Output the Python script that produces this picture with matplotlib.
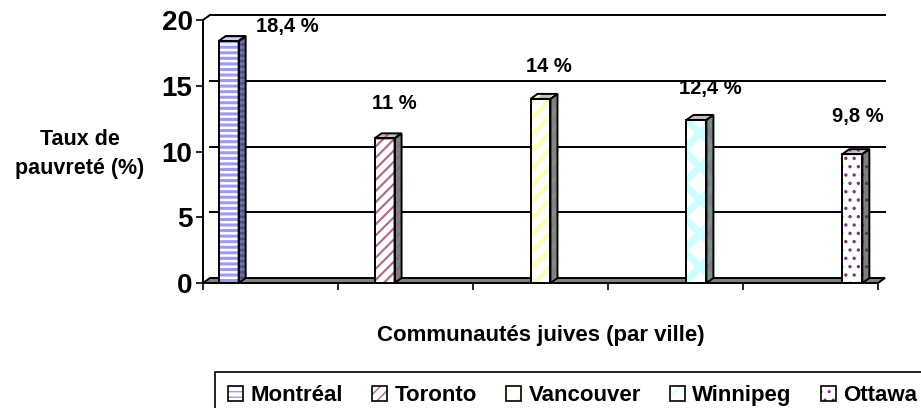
import numpy as np
import matplotlib.pyplot as plt
import matplotlib.patches as mpatches

plt.rcParams['font.family'] = ['Liberation Sans', 'DejaVu Sans']
plt.rcParams['font.weight'] = 'bold'

# data
villes = ['Montréal', 'Toronto', 'Vancouver', 'Winnipeg', 'Ottawa']
taux = [18.4, 11, 14, 12.4, 9.8]
y_ticks = [0, 5, 10, 15, 20]

# bar styles (excel-like fill patterns)
hatches = ['---', '///', '//', 'x', '..']
hatch_colors = ['#9999ff', '#b3668c', '#ffffb0', '#ccffff', '#8a2a8a']
hatch_lw = [2.2, 1.5, 3.0, 5.0, 1.2]
side_faces = ['#50507a', '#808080', '#808080', '#808080', '#808080']
side_hatch = ['#7070a8', '#8a6a7a', '#8a8a7a', '#7a9090', '#6a306a']
top_faces = ['#c8c8f0', '#c0c0c0', '#c0c0c0', '#c0c0c0', '#c0c0c0']
# label offsets from bar top (pixels)
lbl_dx = [59, 10, 8, 14, 5]
lbl_dy = [15, 35, 32, 31, 38]

W, H = 921, 408
fig = plt.figure(figsize=(W / 100, H / 100), dpi=100)
ax = fig.add_axes([203 / W, 125 / H, 675 / W, 263 / H])
ax.set_xlim(0, 5)
ax.set_ylim(0, 20)

# depth of the fake 3d box, in data units
dx = 7 / 135
dy = 5 / 263 * 20


def face(xy, fc, hc, h, hlw, z):
    with plt.rc_context({'hatch.linewidth': hlw}):
        p = mpatches.Polygon(xy, closed=True, facecolor=fc, edgecolor=hc,
                             linewidth=0, hatch=h, zorder=z, clip_on=False)
    if hasattr(p, 'set_hatch_linewidth'):
        p.set_hatch_linewidth(hlw)
    ax.add_patch(p)
    ax.add_patch(mpatches.Polygon(xy, closed=True, fill=False, edgecolor='black',
                                  linewidth=1.4, zorder=z + 0.1, clip_on=False))


# back wall gridlines
x0, x1 = ax.get_xlim()
for v in y_ticks[1:]:
    ax.plot([x0 + dx, x1 + dx], [v + dy, v + dy], color='black', lw=1.4,
            clip_on=False, zorder=1)
ax.plot([x0, x0 + dx], [y_ticks[-1], y_ticks[-1] + dy], color='black', lw=1.4,
        clip_on=False, zorder=1)

# floor
floor = [(x0, 0), (x1, 0), (x1 + dx, dy), (x0 + dx, dy)]
ax.add_patch(mpatches.Polygon(floor, closed=True, facecolor='#808080', edgecolor='black',
                              linewidth=1.4, zorder=2, clip_on=False))

# bars
centers = 2.5 + (np.arange(len(villes)) - 2) * 1.155
bw = 0.148
for i, (c, v) in enumerate(zip(centers, taux)):
    l, r = c - bw / 2, c + bw / 2
    face([(l, 0), (r, 0), (r, v), (l, v)], 'white', hatch_colors[i], hatches[i], hatch_lw[i], 5)
    face([(r, 0), (r + dx, dy), (r + dx, v + dy), (r, v)], side_faces[i], side_hatch[i],
         hatches[i], hatch_lw[i], 5)
    face([(l, v), (r, v), (r + dx, v + dy), (l + dx, v + dy)], top_faces[i], hatch_colors[i],
         hatches[i], hatch_lw[i], 5)
    txt = f'{v:g}'.replace('.', ',') + ' %'
    ax.annotate(txt, xy=(c, v), xytext=(lbl_dx[i] * 0.72, lbl_dy[i] * 0.72),
                textcoords='offset points', ha='center', va='center', fontsize=14.5,
                fontweight='bold', zorder=6)

# axes
for s in ['top', 'right', 'bottom']:
    ax.spines[s].set_visible(False)
ax.spines['left'].set_linewidth(1.4)
ax.spines['left'].set_zorder(3)
ax.set_yticks(y_ticks)
ax.set_yticklabels([str(t) for t in y_ticks])
ax.set_xticks(np.arange(0, 6))
ax.set_xticklabels([''] * 6)
ax.tick_params(axis='y', length=5, width=1.2, labelsize=20, pad=2.5)
ax.tick_params(axis='x', length=5, width=1.2)
ax.patch.set_visible(False)

fig.text(80 / W, 1 - 154 / H, 'Taux de\npauvreté (%)', ha='center', va='center',
         fontsize=15.5, fontweight='bold', linespacing=1.5)
fig.text(541 / W, 1 - 335 / H, 'Communautés juives (par ville)', ha='center', va='center',
         fontsize=16, fontweight='bold')

# legend
handles = []
for i in range(len(villes)):
    hp = mpatches.Patch(facecolor='white', edgecolor=hatch_colors[i], hatch=hatches[i], linewidth=0)
    op = mpatches.Patch(fill=False, edgecolor='black', linewidth=1.2)
    handles.append((hp, op))
leg = fig.legend(handles, villes, ncol=5, loc='upper left',
                 bbox_to_anchor=(215 / W, 1 - 372 / H), bbox_transform=fig.transFigure,
                 frameon=True, fancybox=False, edgecolor='black', framealpha=1,
                 handlelength=0.65, handleheight=0.65, handletextpad=0.35,
                 columnspacing=1.32, borderpad=0.6, borderaxespad=0, fontsize=16)
leg.get_frame().set_linewidth(1.2)

fig.savefig('out.png', dpi=100)
